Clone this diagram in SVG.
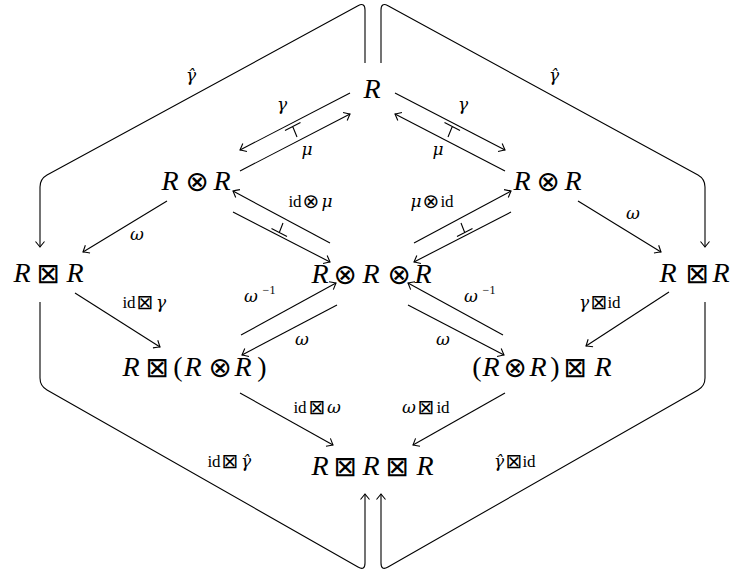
<svg xmlns="http://www.w3.org/2000/svg" width="732" height="573" viewBox="0 0 732 573">
<style>
.t{font-family:"Liberation Serif","DejaVu Serif",serif;fill:#000;text-anchor:middle}
.n{font-size:28px}
.i{font-style:italic}
.s{font-family:"DejaVu Sans",sans-serif}
.ns{font-size:28px}
.ls{font-size:20px}
.l{font-size:17px}
.g{font-family:"DejaVu Serif",serif;font-size:17px;font-style:italic}
.sup{font-size:12px}
.e{fill:none;stroke:#000;stroke-width:1.1}
.a{marker-end:url(#arr)}
.m{fill:none;stroke:#000;stroke-width:1.1}
</style>
<defs>
<marker id="arr" markerUnits="userSpaceOnUse" markerWidth="14" markerHeight="14" refX="0" refY="0" orient="auto" overflow="visible">
<path d="M-5.5 -4.5 Q-1.5 -1.2 0 0 Q-1.5 1.2 -5.5 4.5" fill="none" stroke="#000" stroke-width="1.1"/>
</marker>
</defs>

<g id="nodes">
<g id="n-R"><text class="t n"><tspan class="i" x="372" y="98">R</tspan></text></g>
<g id="n-RoR-left"><text class="t n"><tspan class="i" x="170" y="190">R</tspan><tspan class="s ns" x="197" y="191">⊗</tspan><tspan class="i" x="222" y="190">R</tspan></text></g>
<g id="n-RoR-right"><text class="t n"><tspan class="i" x="522" y="190">R</tspan><tspan class="s ns" x="548" y="191">⊗</tspan><tspan class="i" x="573" y="190">R</tspan></text></g>
<g id="n-RbR-left"><text class="t n"><tspan class="i" x="22" y="282">R</tspan><tspan class="s ns" x="48" y="283">⊠</tspan><tspan class="i" x="75" y="282">R</tspan></text></g>
<g id="n-RoRoR"><text class="t n"><tspan class="i" x="320" y="283">R</tspan><tspan class="s ns" x="345" y="284">⊗</tspan><tspan class="i" x="371" y="283">R</tspan><tspan class="s ns" x="399" y="284">⊗</tspan><tspan class="i" x="423" y="283">R</tspan></text></g>
<g id="n-RbR-right"><text class="t n"><tspan class="i" x="668" y="282">R</tspan><tspan class="s ns" x="697" y="283">⊠</tspan><tspan class="i" x="721" y="282">R</tspan></text></g>
<g id="n-Rb(RoR)"><text class="t n"><tspan class="i" x="131" y="376">R</tspan><tspan class="s ns" x="157" y="377">⊠</tspan><tspan x="178" y="376">(</tspan><tspan class="i" x="193" y="376">R</tspan><tspan class="s ns" x="220" y="377">⊗</tspan><tspan class="i" x="243" y="376">R</tspan><tspan x="262" y="376">)</tspan></text></g>
<g id="n-(RoR)bR"><text class="t n"><tspan x="477" y="376">(</tspan><tspan class="i" x="491" y="376">R</tspan><tspan class="s ns" x="515" y="377">⊗</tspan><tspan class="i" x="538" y="376">R</tspan><tspan x="555" y="376">)</tspan><tspan class="s ns" x="575" y="377">⊠</tspan><tspan class="i" x="603" y="376">R</tspan></text></g>
<g id="n-RbRbR"><text class="t n"><tspan class="i" x="320" y="475">R</tspan><tspan class="s ns" x="345" y="476">⊠</tspan><tspan class="i" x="371" y="475">R</tspan><tspan class="s ns" x="397" y="476">⊠</tspan><tspan class="i" x="425" y="475">R</tspan></text></g>
</g>

<g id="connectors">
<path class="e a" d="M365 63 L365 10 Q365 2 358 5.8 L47 175 Q40 179 40 187 L40 247"/>
<path class="e a" d="M381 63 L381 10 Q381 2 388 5.8 L698 175 Q705 179 705 187 L705 247"/>
<path class="e a" d="M40 302 L40 378 Q40 386 47 390 L358 567 Q365 571 365 563 L365 494"/>
<path class="e a" d="M705 302 L705 378 Q705 386 698 390 L388 567 Q381 571 381 563 L381 494"/>
<path class="e a" d="M350 93 L240 150"/>
<path class="e a" d="M240 171 L350 114"/>
<path class="e a" d="M395 93 L505 150"/>
<path class="e a" d="M505 171 L395 114"/>
<path class="e a" d="M330 243 L233 191"/>
<path class="e a" d="M233 212 L330 262"/>
<path class="e a" d="M414 243 L511 191"/>
<path class="e a" d="M511 212 L414 262"/>
<path class="e a" d="M167 201 L83 252"/>
<path class="e a" d="M578 201 L661 252"/>
<path class="e a" d="M75 293 L160 347"/>
<path class="e a" d="M669 292 L586 346"/>
<path class="e a" d="M241 335 L336 283"/>
<path class="e a" d="M337 305 L242 355"/>
<path class="e a" d="M503 335 L408 283"/>
<path class="e a" d="M408 305 L504 355"/>
<path class="e a" d="M240 393 L333 445"/>
<path class="e a" d="M505 393 L413 445"/>
<path class="m" d="M285 130.5 L300.5 122.5 M292.7 126.5 L297 137"/>
<path class="m" d="M444.5 122.5 L460 130.5 M452.3 126.5 L448 137"/>
<path class="m" d="M271.5 228.5 L287 236.5 M279.3 232.5 L283 223"/>
<path class="m" d="M457 236.5 L472.5 228.5 M464.7 232.5 L461 223"/>
</g>

<g id="labels">
<text class="t g" x="191" y="81">γ̂</text>
<text class="t g" x="554" y="81">γ̂</text>
<text class="t g" x="282" y="110">γ</text>
<text class="t g" x="307" y="155">μ</text>
<text class="t g" x="463" y="110">γ</text>
<text class="t g" x="438" y="155">μ</text>
<text class="t l"><tspan x="295" y="207">id</tspan><tspan class="s ls" x="311" y="208">⊗</tspan><tspan class="g" x="327" y="207">μ</tspan></text>
<text class="t l"><tspan class="g" x="416" y="207">μ</tspan><tspan class="s ls" x="431" y="208">⊗</tspan><tspan x="447" y="207">id</tspan></text>
<text class="t g" x="137" y="240">ω</text>
<text class="t g" x="633" y="219">ω</text>
<text class="t l"><tspan x="129" y="308">id</tspan><tspan class="s ls" x="145" y="309">⊠</tspan><tspan class="g" x="161" y="308">γ</tspan></text>
<text class="t l"><tspan class="g" x="584" y="308">γ</tspan><tspan class="s ls" x="599" y="309">⊠</tspan><tspan x="614" y="308">id</tspan></text>
<text class="t g" x="251" y="302">ω</text><text class="t sup" x="269" y="294">−1</text>
<text class="t g" x="302" y="345">ω</text>
<text class="t g" x="471" y="302">ω</text><text class="t sup" x="489" y="294">−1</text>
<text class="t g" x="443" y="345">ω</text>
<text class="t l"><tspan x="300" y="413">id</tspan><tspan class="s ls" x="317" y="414">⊠</tspan><tspan class="g" x="334" y="413">ω</tspan></text>
<text class="t l"><tspan class="g" x="409" y="413">ω</tspan><tspan class="s ls" x="426" y="414">⊠</tspan><tspan x="443" y="413">id</tspan></text>
<text class="t l"><tspan x="214" y="467">id</tspan><tspan class="s ls" x="230" y="468">⊠</tspan><tspan class="g" x="246" y="467">γ̂</tspan></text>
<text class="t l"><tspan class="g" x="499" y="467">γ̂</tspan><tspan class="s ls" x="514" y="468">⊠</tspan><tspan x="529" y="467">id</tspan></text>
</g>
</svg>
